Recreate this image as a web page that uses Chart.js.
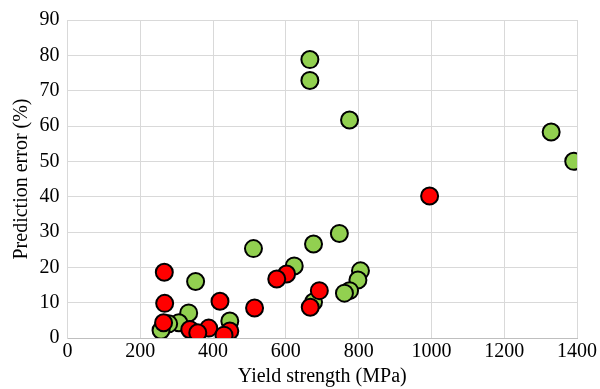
<!DOCTYPE html>
<html>
<head>
<meta charset="utf-8">
<script src="https://cdn.jsdelivr.net/npm/chart.js@4"></script>
<style>
  body { margin: 0; background: #fff; }
  #wrap { width: 600px; height: 389px; }
</style>
</head>
<body>
<div id="wrap"><canvas id="mycanvas"></canvas></div>
<script>
// green series
var greenX = [666, 666, 775, 1329, 1391, 747, 676, 511, 623, 805, 798, 352, 775, 761, 676, 333, 446, 306, 278, 257];
var greenY = [78.8, 72.9, 61.7, 58.3, 50, 29.6, 26.6, 25.3, 20.4, 19, 16.4, 16, 13.4, 12.7, 10.2, 7.1, 4.8, 4.3, 4, 2.2];
// red series
var redX = [995, 266, 602, 575, 692, 419, 267, 514, 667, 264, 336, 388, 358, 446, 430];
var redY = [40.2, 18.6, 18.1, 16.7, 13.4, 10.4, 9.8, 8.5, 8.7, 4.3, 2.4, 2.8, 1.5, 2, 0.8];

function toPoints(xs, ys) {
    var pts = [];
    for (var i in xs) {
        pts.push({x: xs[i], y: ys[i]});
    }
    return pts;
}

var font = {family: "'Liberation Serif', 'Times New Roman', serif", size: 20};

var ctx = document.getElementById('mycanvas');
var chart = new Chart(ctx, {
    type: 'scatter',
    data: {
        datasets: [
            {
                label: 'red',
                data: toPoints(redX, redY),
                backgroundColor: '#ff0000',
                borderColor: '#000000',
                borderWidth: 2,
                pointRadius: 8.5,
                order: 0
            },
            {
                label: 'green',
                data: toPoints(greenX, greenY),
                backgroundColor: '#92d050',
                borderColor: '#000000',
                borderWidth: 2,
                pointRadius: 8.5,
                order: 1
            }
        ]
    },
    options: {
        responsive: true,
        maintainAspectRatio: false,
        animation: false,
        layout: {padding: {top: 17, right: 23, left: 0, bottom: 0}},
        plugins: {legend: {display: false}, tooltip: {enabled: false}},
        scales: {
            x: {
                type: 'linear',
                min: 0, max: 1400,
                ticks: {stepSize: 200, color: '#000', font: font, padding: 2,
                        callback: function(v) { return String(v); }},
                grid: {color: '#d9d9d9', drawTicks: false},
                border: {color: '#bfbfbf'},
                title: {display: true, text: 'Yield strength (MPa)', color: '#000', font: font, padding: {top: 0, bottom: 0}},
                afterFit: function(s) { s.height = 51; }
            },
            y: {
                min: 0, max: 90,
                ticks: {stepSize: 10, color: '#000', font: font, padding: 8,
                        callback: function(v) { return String(v); }},
                grid: {color: '#d9d9d9', drawTicks: false},
                border: {color: '#d9d9d9'},
                title: {display: true, text: 'Prediction error (%)', color: '#000', font: font, padding: {top: 10, bottom: 0}},
                afterFit: function(s) { s.width = 67.5; }
            }
        }
    }
});
</script>
</body>
</html>
